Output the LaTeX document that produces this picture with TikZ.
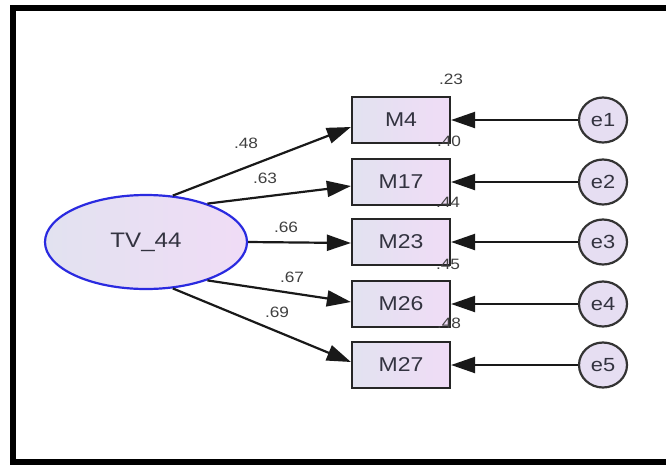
\documentclass[tikz,border=0pt]{standalone}
\usepackage{fontspec}
\setmainfont[FakeStretch=1.15]{Liberation Sans}
\usetikzlibrary{arrows.meta,shapes.geometric,calc}
\definecolor{boxl}{HTML}{E2E2F0}
\definecolor{boxr}{HTML}{F0DCF6}
\definecolor{ell}{HTML}{E6DEF2}
\definecolor{ellblue}{HTML}{2A2AE0}
\definecolor{txt}{HTML}{333340}
\begin{document}
\begin{tikzpicture}[x=1pt,y=-1pt,
  obs/.style={draw=black!85,line width=2.2pt,minimum width=98pt,minimum height=46pt,inner sep=0pt,
    left color=boxl,right color=boxr,text=txt,font=\fontsize{20}{20}\selectfont},
  lat/.style={ellipse,draw=ellblue,line width=2.2pt,minimum width=202pt,minimum height=94pt,inner sep=0pt,
    left color=boxl,right color=boxr,text=txt,font=\fontsize{21}{21}\selectfont},
  err/.style={ellipse,draw=black!80,line width=2.2pt,minimum width=48pt,minimum height=45pt,inner sep=0pt,
    fill=ell,text=txt,font=\fontsize{19}{19}\selectfont},
  arr/.style={line width=2.2pt,draw=black!90,-{Triangle[length=24pt,width=16pt]}},
  lbl/.style={text=black!75,font=\fontsize{15}{15}\selectfont,inner sep=0pt}
]
\useasboundingbox (0,0) rectangle (666,464);
\fill[white] (0,0) rectangle (666,464);
\draw[line width=6pt,line cap=rect] (672,8) -- (13,8) -- (13,461.5) -- (672,461.5);

\node[lat] (tv) at (146,242) {TV\_44};

\node[obs] (m4)  at (401,120) {M4};
\node[obs] (m17) at (401,182) {M17};
\node[obs] (m23) at (401,242) {M23};
\node[obs] (m26) at (401,304) {M26};
\node[obs] (m27) at (401,365) {M27};

\node[err] (e1) at (603,120) {e1};
\node[err] (e2) at (603,182) {e2};
\node[err] (e3) at (603,242) {e3};
\node[err] (e4) at (603,304) {e4};
\node[err] (e5) at (603,365) {e5};

\draw[arr] (tv.60)  -- ($(m4.west)+(0,7)$);
\draw[arr] (tv.32)  -- ($(m17.west)+(0,4)$);
\draw[arr] (tv.east) -- ($(m23.west)+(0,1)$);
\draw[arr] (tv.-32) -- ($(m26.west)+(0,-2)$);
\draw[arr] (tv.-60) -- ($(m27.west)+(0,-3)$);

\foreach \e/\m in {e1/m4,e2/m17,e3/m23,e4/m26,e5/m27}
  \draw[arr] (\e.west) -- (\m.east);

\node[lbl] (l1) at (246,143) {.48};
\node[lbl] (l2) at (265,178) {.63};
\node[lbl] (l3) at (286,227) {.66};
\node[lbl] (l4) at (292,277) {.67};
\node[lbl] (l5) at (277,312) {.69};

\node[lbl] (r1) at (451,79)  {.23};
\node[lbl] (r2) at (449,141) {.40};
\node[lbl] (r3) at (448,202) {.44};
\node[lbl] (r4) at (448,264) {.45};
\node[lbl] (r5) at (449,323) {.48};
\end{tikzpicture}
\end{document}
